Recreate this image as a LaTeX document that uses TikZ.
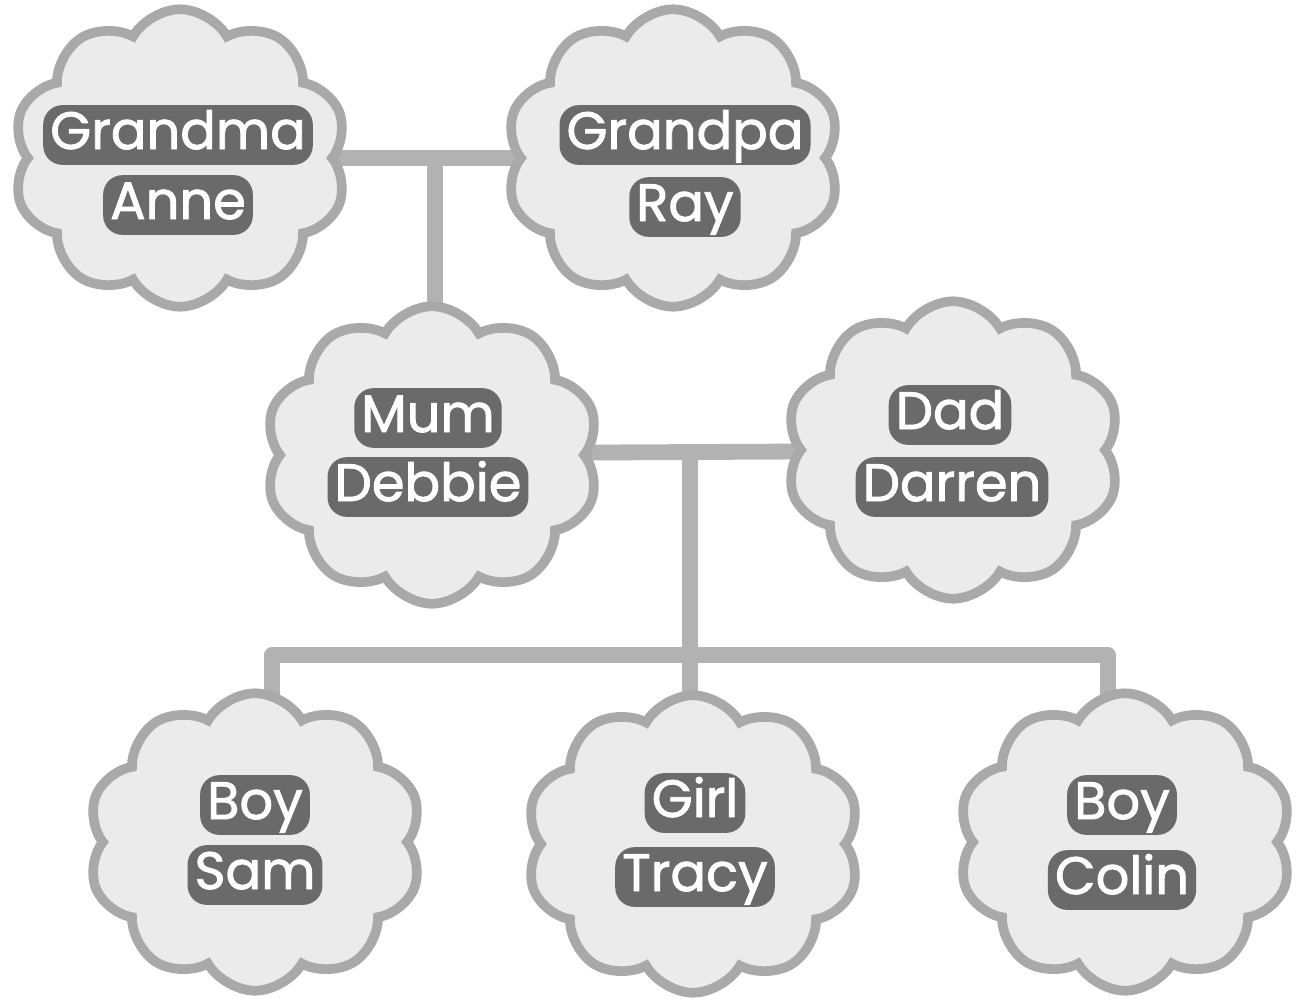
\documentclass[tikz,border=0pt]{standalone}
\usepackage{fontspec}
\setmainfont{Poppins}
\newfontfamily\wordfont{Poppins}[FakeBold=1.6]
\usetikzlibrary{shapes.symbols,calc,backgrounds}
\definecolor{cfill}{HTML}{EBEBEB}
\definecolor{cline}{HTML}{A9A9A9}
\definecolor{conn}{HTML}{B2B2B2}
\definecolor{dk}{HTML}{6A6A6A}
\tikzset{
  puff/.style={cloud, cloud puffs=10, cloud puff arc=120, aspect=1.1,
    draw=cline, fill=cfill, line width=5.5pt, inner sep=0pt,
    minimum width=6.7cm, minimum height=5.95cm},
  word/.style={fill=dk, text=white, rounded corners=11pt, inner xsep=4pt,
    inner ysep=3pt, text height=22pt, text depth=6pt,
    font=\wordfont\fontsize{30}{36}\selectfont},
  link/.style={draw=conn, line width=9pt, line join=round, line cap=round}
}
\begin{document}
\begin{tikzpicture}[x=0.02cm,y=-0.02cm]
\useasboundingbox (0,0) rectangle (1300,998);
\node[puff] (ga) at (180,158) {};
\node[puff] (gp) at (673,158) {};
\node[puff] (mum) at (432,455) {};
\node[puff] (dad) at (953,450) {};
\node[puff] (sam) at (255,842) {};
\node[puff] (tracy) at (693,844) {};
\node[puff] (colin) at (1125,842) {};
\node[word] (ga1) at (178,135) {Grandma};
\node[word] (ga2) at (178,205) {Anne};
\node[word] (gp1) at (685,135) {Grandpa};
\node[word] (gp2) at (685,207) {Ray};
\node[word] (mum1) at (428,418) {Mum};
\node[word] (mum2) at (428,487) {Debbie};
\node[word] (dad1) at (950,415) {Dad};
\node[word] (dad2) at (952,487) {Darren};
\node[word] (sam1) at (255,805) {Boy};
\node[word] (sam2) at (255,875) {Sam};
\node[word] (tracy1) at (695,803) {Girl};
\node[word] (tracy2) at (695,877) {Tracy};
\node[word] (colin1) at (1122,805) {Boy};
\node[word] (colin2) at (1122,880) {Colin};
\coordinate (j1) at (435,168);
\coordinate (j2) at (690,455);
\coordinate (bl) at (272,655);
\coordinate (br) at (1108,655);
\begin{scope}[on background layer]
\draw[link] (ga) -- (gp);
\draw[link] (j1) -- (j1 |- mum);
\draw[link] (mum) -- (dad);
\draw[link] (j2) -- (j2 |- tracy);
\draw[link] (bl |- sam) -- (bl) -- (br) -- (br |- colin);
\end{scope}
\end{tikzpicture}
\end{document}
